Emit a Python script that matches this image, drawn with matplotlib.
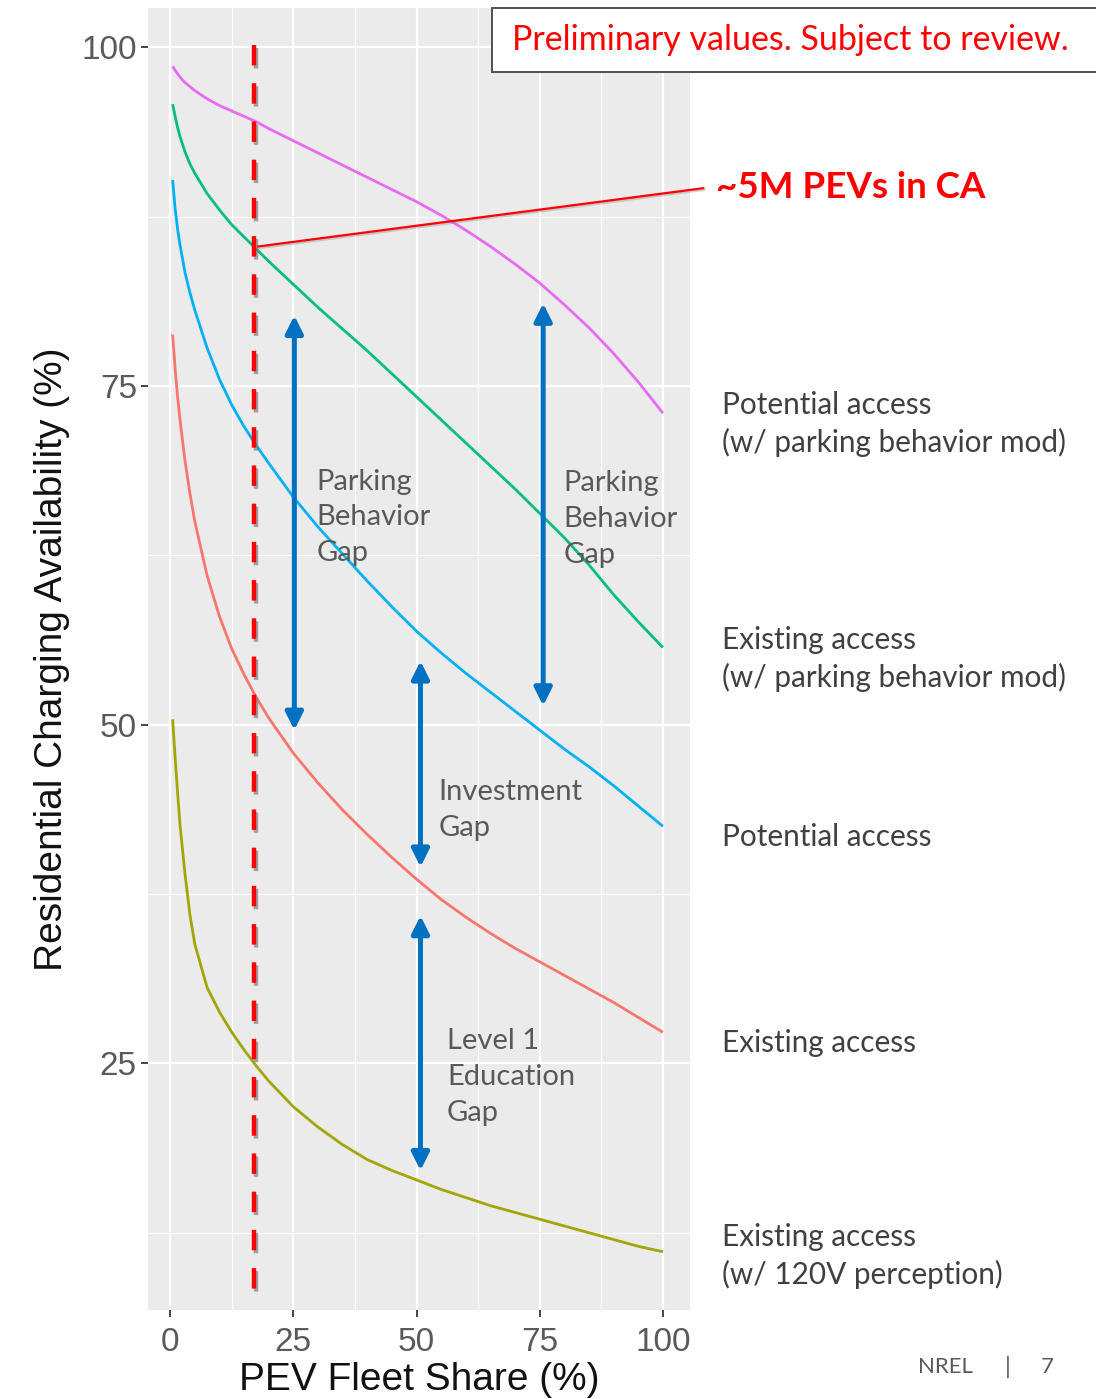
import matplotlib
matplotlib.use('Agg')
import matplotlib.pyplot as plt
import matplotlib.patheffects as pe
from matplotlib.patches import Rectangle

# fleet share (%) where the curves were read
share = [0.5, 1, 1.5, 2, 3, 4, 5, 7.5, 10, 12.5, 15, 17.5, 20, 25, 30, 35, 40, 45,
         50, 55, 60, 65, 70, 75, 80, 85, 90, 95, 100]

potential_mod = [98.6, 98.3, 98.05, 97.8, 97.4, 97.1, 96.8, 96.2, 95.7, 95.3, 94.9,
                 94.5, 94.0, 93.1, 92.2, 91.3, 90.4, 89.5, 88.6, 87.6, 86.5, 85.3,
                 84.0, 82.6, 81.0, 79.3, 77.4, 75.3, 73.0]
existing_mod = [95.8, 94.9, 94.1, 93.4, 92.3, 91.4, 90.7, 89.2, 88.0, 86.9, 86.0,
                85.1, 84.2, 82.5, 80.8, 79.2, 77.6, 75.9, 74.2, 72.5, 70.8, 69.1,
                67.4, 65.6, 63.8, 61.8, 59.6, 57.6, 55.7]
potential = [90.2, 88.1, 86.6, 85.4, 83.4, 81.9, 80.6, 77.8, 75.5, 73.6, 72.0,
             70.6, 69.3, 66.8, 64.6, 62.6, 60.6, 58.7, 56.9, 55.3, 53.8, 52.4,
             51.0, 49.6, 48.2, 46.9, 45.5, 44.0, 42.5]
existing = [78.8, 76.3, 74.2, 72.5, 69.5, 67.1, 65.0, 61.0, 58.0, 55.6, 53.7,
            52.0, 50.5, 47.9, 45.7, 43.7, 41.9, 40.2, 38.6, 37.1, 35.8, 34.6,
            33.5, 32.5, 31.5, 30.5, 29.5, 28.4, 27.3]
existing_120v = [50.4, 47.6, 45.0, 42.6, 39.0, 36.0, 33.8, 30.6, 28.8, 27.3, 26.0,
                 24.8, 23.7, 21.8, 20.3, 19.0, 17.9, 17.1, 16.4, 15.7, 15.1, 14.5,
                 14.0, 13.5, 13.0, 12.5, 12.0, 11.5, 11.1]

series = [existing, existing_120v, existing_mod, potential, potential_mod]
colors = ['#F8766D', '#A3A500', '#00BF7D', '#00B0F6', '#E76BF3']

x_ticks = [0, 25, 50, 75, 100]
y_ticks = [25, 50, 75, 100]

ca_share = 17          # ~5M PEVs in CA
ca_point = (17.9, 85.3)

# gap arrows: x, y_top, y_bottom
gaps = [(25.2, 80.2, 49.6), (75.7, 81.1, 51.4), (50.8, 54.7, 39.5), (50.8, 35.9, 17.1)]
gap_texts = [('Parking\nBehavior\nGap', 29.7, 65.3),
             ('Parking\nBehavior\nGap', 79.8, 65.2),
             ('Investment\nGap', 54.4, 43.7),
             ('Level 1\nEducation\nGap', 56.2, 24.0)]

side_labels = [('Potential access\n(w/ parking behavior mod)', 424),
               ('Existing access\n(w/ parking behavior mod)', 659),
               ('Potential access', 837),
               ('Existing access', 1043),
               ('Existing access\n(w/ 120V perception)', 1256)]

W, H = 1096, 1399
slide_font = ['Lato', 'DejaVu Sans']

fig = plt.figure(figsize=(W / 100, H / 100), dpi=100)
ax = fig.add_axes([148 / W, 1 - 1310 / H, (690 - 148) / W, (1310 - 8) / H])
ax.set_facecolor('#EBEBEB')

for vals, c in zip(series, colors):
    ax.plot(share, vals, color=c, lw=2.0, solid_capstyle='butt',
            solid_joinstyle='round', zorder=3)

ax.set_xlim(-4.5, 105.5)
ax.set_ylim(6.8, 102.9)
ax.set_xticks(x_ticks)
ax.set_yticks(y_ticks)
ax.set_xticks([12.5, 37.5, 62.5, 87.5], minor=True)
ax.set_yticks([12.5, 37.5, 62.5, 87.5], minor=True)
ax.grid(which='major', color='white', lw=1.6, zorder=1)
ax.grid(which='minor', color='white', lw=0.8, zorder=1)
ax.set_axisbelow(True)
for s in ax.spines.values():
    s.set_visible(False)
ax.tick_params(which='major', length=5, width=1.4, color='#444444',
               labelsize=24, labelcolor='#5A5A5A', pad=3)
ax.tick_params(axis='x', which='major', pad=7)
ax.tick_params(which='minor', length=0)
for lab in ax.get_xticklabels() + ax.get_yticklabels():
    lab.set_family('Liberation Sans')
ax.set_xlabel('PEV Fleet Share (%)', fontsize=28, family='Liberation Sans',
              color='#111111', labelpad=3)
ax.set_ylabel('Residential Charging Availability (%)', fontsize=28,
              family='Liberation Sans', color='#111111', labelpad=8)

shadow = [pe.SimpleLineShadow(offset=(1.5, -2.5), shadow_color='#808080', alpha=0.7),
          pe.Normal()]
soft_shadow = [pe.SimpleLineShadow(offset=(0.8, -1.2), shadow_color='#808080', alpha=0.35),
               pe.Normal()]

# vertical marker for today's CA fleet
ax.plot([ca_share, ca_share], [100.2, 7.9], color='#FF0000', lw=3.2,
        dashes=(4.6, 4.0), zorder=5, path_effects=shadow)

# leader line to the callout text
ax.plot([ca_point[0], 108.2], [ca_point[1], 89.6], color='#FF0000', lw=1.6,
        clip_on=False, zorder=6, path_effects=soft_shadow)

for gx, gtop, gbot in gaps:
    ax.annotate('', xy=(gx, gtop), xytext=(gx, gbot),
                arrowprops=dict(arrowstyle='<|-|>', color='#0070C0', lw=3.6,
                                mutation_scale=26, shrinkA=0, shrinkB=0),
                zorder=6)

for txt, tx, ty in gap_texts:
    ax.text(tx, ty, txt, ha='left', va='center', fontsize=21, color='#595959',
            family=slide_font, linespacing=1.47, zorder=7)

for txt, py in side_labels:
    fig.text(722 / W, 1 - py / H, txt, ha='left', va='center', fontsize=21.4,
             color='#404040', family=slide_font, linespacing=1.38)

fig.text(716 / W, 1 - 187 / H, '~5M PEVs in CA', ha='left', va='center',
         fontsize=26.5, fontweight='bold', color='#FF0000', family=slide_font)

fig.patches.append(Rectangle((492 / W, 1 - 72 / H), (1110 - 492) / W, 64 / H,
                             transform=fig.transFigure, facecolor='white',
                             edgecolor='#505050', lw=1.4, zorder=10))
fig.text(512 / W, 1 - 40 / H, 'Preliminary values. Subject to review.',
         ha='left', va='center', fontsize=24.5, color='#FF0000',
         family=slide_font, zorder=11)

fig.text(918 / W, 1 - 1367 / H, 'NREL', ha='left', va='center', fontsize=16,
         color='#595959', family=slide_font)
fig.text(1008 / W, 1 - 1367 / H, '|', ha='center', va='center', fontsize=17,
         color='#595959', family=slide_font)
fig.text(1047 / W, 1 - 1367 / H, '7', ha='center', va='center', fontsize=16,
         color='#595959', family=slide_font)

fig.savefig('out.png', dpi=100)
